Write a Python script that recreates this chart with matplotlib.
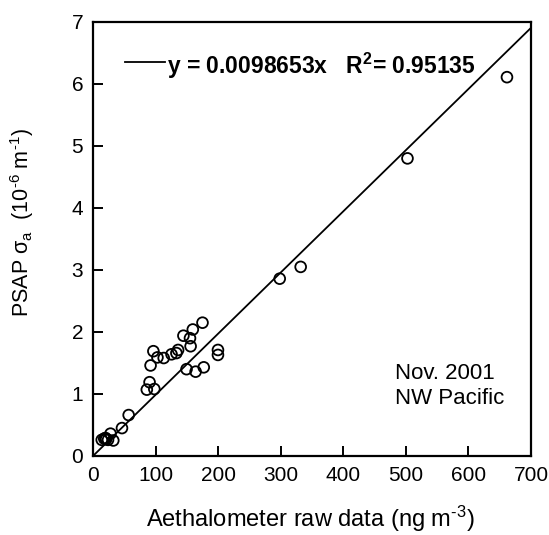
import matplotlib
matplotlib.use("Agg")
import matplotlib.pyplot as plt
import numpy as np

plt.rcParams['font.family'] = ['Liberation Sans', 'DejaVu Sans']
plt.rcParams['mathtext.fontset'] = 'custom'
plt.rcParams['mathtext.rm'] = 'Liberation Sans'
plt.rcParams['mathtext.it'] = 'Liberation Sans:italic'
plt.rcParams['mathtext.bf'] = 'Liberation Sans:bold'

# Aethalometer raw data (ng m^-3) vs PSAP absorption (10^-6 m^-1)
aeth = [661.6, 502.6, 331.9, 298.4, 175, 159.5, 144.5, 155, 156, 136, 133.3,
        125.5, 113, 103, 96.5, 92, 199.7, 199.7, 149.5, 164, 177, 90.4, 86,
        98, 57, 46.3, 28, 32.4, 14, 18, 21, 24, 20]
psap = [6.11, 4.80, 3.05, 2.86, 2.15, 2.04, 1.94, 1.90, 1.77, 1.71, 1.66,
        1.64, 1.58, 1.59, 1.69, 1.46, 1.71, 1.63, 1.40, 1.36, 1.43, 1.19, 1.07,
        1.08, 0.66, 0.45, 0.36, 0.25, 0.26, 0.28, 0.27, 0.26, 0.29]

slope = 0.0098653
r2 = 0.95135
x_ticks = [0, 100, 200, 300, 400, 500, 600, 700]
y_ticks = [0, 1, 2, 3, 4, 5, 6, 7]

HY = '\u2010'  # short hyphen used for the exponents

fig = plt.figure(figsize=(5.49, 5.35), dpi=100)
ax = fig.add_axes([0.1694, 0.1477, 0.7978, 0.8112])

ax.scatter(aeth, psap, s=60, facecolors='none', edgecolors='black', linewidths=1.3, zorder=3)
xfit = np.array([0, 700])
ax.plot(xfit, slope * xfit, color='black', lw=1.3)

ax.set_xlim(0, 700)
ax.set_ylim(0, 7)
ax.set_xticks(x_ticks)
ax.set_yticks(y_ticks)
ax.tick_params(direction='in', length=7, width=1.4, labelsize=15, pad=7)
for s in ax.spines.values():
    s.set_linewidth(1.6)

ax.set_xlabel('Aethalometer raw data (ng m$^{\\mathregular{%s3}}$)' % HY, fontsize=17)
ax.xaxis.set_label_coords(0.4954, -0.110)
ax.set_ylabel('PSAP σ$_{\\mathregular{a}}$  (10$^{\\mathregular{%s6}}$ m$^{\\mathregular{%s1}}$)' % (HY, HY),
              fontsize=15.5)
ax.yaxis.set_label_coords(-0.13, 0.538)

# regression annotation
ax.plot([51, 115], [6.36, 6.36], color='black', lw=1.3)
ax.text(119, 6.17, 'y = %.7fx   R$^{\\mathbf{2}}$= %.5f' % (slope, r2), fontsize=16.5,
        fontweight='bold', va='baseline', ha='left')

ax.text(483, 1.24, 'Nov. 2001', fontsize=16, ha='left', va='baseline')
ax.text(483, 0.84, 'NW Pacific', fontsize=16, ha='left', va='baseline')

fig.savefig('out.png', dpi=100)
